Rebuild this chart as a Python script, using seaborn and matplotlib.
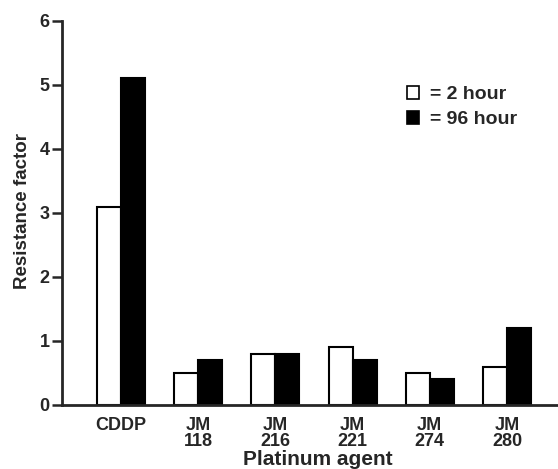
import numpy as np
import pandas as pd
import seaborn as sns
import matplotlib.pyplot as plt
from matplotlib.patches import Patch

# 데이터
agents = ['CDDP', 'JM\n118', 'JM\n216', 'JM\n221', 'JM\n274', 'JM\n280']
hour2 = [3.1, 0.5, 0.8, 0.9, 0.5, 0.6]
hour96 = [5.1, 0.7, 0.8, 0.7, 0.4, 1.2]
series = ['2 hour', '96 hour']

df = pd.DataFrame({
    'agent': agents * 2,
    'value': hour2 + hour96,
    'exposure': [series[0]] * len(agents) + [series[1]] * len(agents),
})

sns.set_style('ticks')
plt.rcParams['font.family'] = ['Liberation Sans', 'DejaVu Sans']

fig = plt.figure(figsize=(5.58, 4.69), dpi=100)
ax = fig.add_axes([0.111, 0.1365, 0.889, 0.819])

sns.barplot(data=df, x='agent', y='value', hue='exposure', order=agents,
            hue_order=series, palette=['white', 'black'], width=0.62,
            edgecolor='black', linewidth=1.5, legend=False, ax=ax)

ax.set_xlim(-0.764, 5.66)
ax.set_ylim(0, 6)
ax.set_yticks(range(0, 7))
ax.tick_params(axis='y', direction='out', length=7, width=1.8, labelsize=13, pad=2)
ax.tick_params(axis='x', length=0, labelsize=13, pad=9)
for lab in ax.get_xticklabels() + ax.get_yticklabels():
    lab.set_fontweight('bold')
    lab.set_linespacing(0.9)
ax.set_xlabel('Platinum agent', fontsize=15, fontweight='bold')
ax.set_ylabel('Resistance factor', fontsize=13.5, fontweight='bold')
ax.xaxis.set_label_coords(0.515, -0.118)
ax.yaxis.set_label_coords(-0.062, 0.505)

sns.despine(ax=ax)
ax.spines['left'].set_linewidth(2)
ax.spines['bottom'].set_linewidth(2)

handles = [Patch(facecolor='white', edgecolor='black', linewidth=1.2),
           Patch(facecolor='black', edgecolor='black', linewidth=1.2)]
ax.legend(handles, ['= ' + s for s in series], loc='upper left',
          bbox_to_anchor=(0.66, 0.875), frameon=False, handlelength=0.6,
          handleheight=0.6, handletextpad=0.6, labelspacing=0.4,
          prop={'size': 14, 'weight': 'bold'})

plt.savefig('out.png', dpi=100)
plt.close()
